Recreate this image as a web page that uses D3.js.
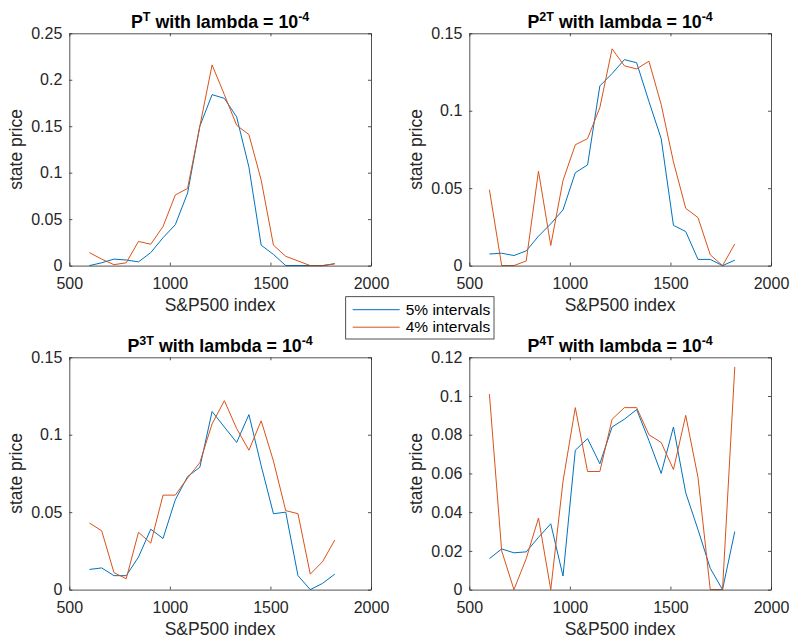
<!DOCTYPE html>
<html>
<head>
<meta charset="utf-8">
<script src="https://cdn.jsdelivr.net/npm/d3@7"></script>
<style>
  html, body { margin: 0; padding: 0; background: #fff; }
  svg { display: block; font-family: "Liberation Sans", Arial, Helvetica, sans-serif; }
</style>
</head>
<body>
<svg id="chart" width="791" height="641"></svg>
<script>
// ---- data ----
const xIndex = [600, 661, 722, 783, 844, 905, 966, 1027, 1088, 1149, 1210, 1271, 1332, 1393, 1454, 1515, 1576, 1637, 1698, 1759, 1820];

const p1_5pct = [0.000, 0.003, 0.007, 0.006, 0.004, 0.014, 0.030, 0.044, 0.078, 0.150, 0.184, 0.180, 0.160, 0.106, 0.022, 0.012, 0.000, 0.000, 0.000, 0.000, 0.002];
const p1_4pct = [0.014, 0.007, 0.001, 0.003, 0.026, 0.023, 0.042, 0.076, 0.083, 0.150, 0.216, 0.184, 0.151, 0.141, 0.092, 0.022, 0.010, 0.005, 0.000, 0.000, 0.002];

const p2_5pct = [0.0075, 0.008, 0.0065, 0.0095, 0.019, 0.027, 0.036, 0.060, 0.065, 0.116, 0.124, 0.133, 0.131, 0.106, 0.082, 0.026, 0.022, 0.004, 0.004, 0.000, 0.0035];
const p2_4pct = [0.049, 0.000, 0.000, 0.003, 0.061, 0.013, 0.055, 0.078, 0.082, 0.102, 0.140, 0.129, 0.127, 0.132, 0.104, 0.067, 0.037, 0.031, 0.007, 0.000, 0.014];

const p3_5pct = [0.013, 0.014, 0.009, 0.009, 0.021, 0.039, 0.033, 0.058, 0.073, 0.079, 0.115, 0.105, 0.095, 0.113, 0.080, 0.049, 0.050, 0.009, 0.000, 0.004, 0.010];
const p3_4pct = [0.043, 0.038, 0.011, 0.007, 0.037, 0.030, 0.061, 0.061, 0.072, 0.082, 0.107, 0.122, 0.104, 0.090, 0.109, 0.083, 0.051, 0.049, 0.010, 0.018, 0.032];

const p4_5pct = [0.016, 0.021, 0.019, 0.0195, 0.027, 0.034, 0.007, 0.072, 0.078, 0.065, 0.084, 0.088, 0.093, 0.077, 0.060, 0.084, 0.050, 0.031, 0.011, 0.000, 0.030];
const p4_4pct = [0.101, 0.020, 0.000, 0.016, 0.037, 0.000, 0.056, 0.094, 0.061, 0.061, 0.088, 0.094, 0.094, 0.080, 0.076, 0.062, 0.090, 0.058, 0.000, 0.000, 0.115];

const xTicks = [500, 1000, 1500, 2000];
const yTicks1 = [0, 0.05, 0.1, 0.15, 0.2, 0.25];
const yTicks2 = [0, 0.05, 0.1, 0.15];
const yTicks3 = [0, 0.05, 0.1, 0.15];
const yTicks4 = [0, 0.02, 0.04, 0.06, 0.08, 0.1, 0.12];

const seriesNames = ["5% intervals", "4% intervals"];
const powers = ["", "2", "3", "4"];

// ---- style ----
const colBlue = "#0072BD";
const colOrange = "#D95319";
const ink = "#262626";

const svg = d3.select("#chart");

const panels = [
  { s5: p1_5pct, s4: p1_4pct, yt: yTicks1, ymax: 0.25, pw: powers[0], left: 69.3, top: 33.3 },
  { s5: p2_5pct, s4: p2_4pct, yt: yTicks2, ymax: 0.15, pw: powers[1], left: 469.3, top: 33.3 },
  { s5: p3_5pct, s4: p3_4pct, yt: yTicks3, ymax: 0.15, pw: powers[2], left: 69.3, top: 357.3 },
  { s5: p4_5pct, s4: p4_4pct, yt: yTicks4, ymax: 0.12, pw: powers[3], left: 469.3, top: 357.3 }
];
const W = 301.7, H = 232.3;

panels.forEach(p => {
  const g = svg.append("g").attr("transform", `translate(${p.left},${p.top})`);
  const x = d3.scaleLinear().domain([500, 2000]).range([0, W]);
  const y = d3.scaleLinear().domain([0, p.ymax]).range([H, 0]);

  // lines
  const line = d3.line().x((d, i) => x(xIndex[i])).y(d => y(d));
  g.append("path").datum(p.s5).attr("d", line)
    .attr("fill", "none").attr("stroke", colBlue).attr("stroke-width", 1);
  g.append("path").datum(p.s4).attr("d", line)
    .attr("fill", "none").attr("stroke", colOrange).attr("stroke-width", 1);

  // axes (ticks inward, mirrored)
  const fmt = d => String(d);
  const xb = g.append("g").attr("transform", `translate(0,${H})`)
    .call(d3.axisBottom(x).tickValues(xTicks).tickSizeInner(-3).tickSizeOuter(0).tickPadding(12).tickFormat(fmt));
  const xt = g.append("g")
    .call(d3.axisTop(x).tickValues(xTicks).tickSizeInner(-3).tickSizeOuter(0).tickFormat(""));
  const yl = g.append("g")
    .call(d3.axisLeft(y).tickValues(p.yt).tickSizeInner(-3).tickSizeOuter(0).tickPadding(7).tickFormat(fmt));
  const yr = g.append("g").attr("transform", `translate(${W},0)`)
    .call(d3.axisRight(y).tickValues(p.yt).tickSizeInner(-3).tickSizeOuter(0).tickFormat(""));

  [xb, xt, yl, yr].forEach(a => {
    a.select(".domain").attr("stroke", ink).attr("stroke-width", 0.8);
    a.selectAll(".tick line").attr("stroke", ink).attr("stroke-width", 0.8);
    a.selectAll(".tick text").attr("fill", ink).attr("font-size", 16)
      .attr("font-family", "Liberation Sans, Arial, sans-serif");
  });

  // title
  const t = g.append("text").attr("x", W / 2).attr("y", -5.8)
    .attr("text-anchor", "middle").attr("font-weight", "bold")
    .attr("font-size", 17.8).attr("fill", "#000");
  t.append("tspan").text("P");
  t.append("tspan").attr("dy", -7).attr("font-size", 12.5).text(p.pw + "T");
  t.append("tspan").attr("dy", 7).text(" with lambda = 10");
  t.append("tspan").attr("dy", -7).attr("font-size", 12.5).text("-4");

  // x label
  g.append("text").attr("x", W / 2).attr("y", H + 45)
    .attr("text-anchor", "middle").attr("font-size", 17.5).attr("fill", ink)
    .text("S&P500 index");

  // y label
  g.append("text").attr("transform", `translate(-47,${H / 2}) rotate(-90)`)
    .attr("text-anchor", "middle").attr("font-size", 17.5).attr("fill", ink)
    .text("state price");
});

// legend
const lg = svg.append("g").attr("transform", "translate(345.7,296.7)");
lg.append("rect").attr("width", 148.3).attr("height", 42.3)
  .attr("fill", "#fff").attr("stroke", ink).attr("stroke-width", 0.8);
[colBlue, colOrange].forEach((c, i) => {
  const yy = 13 + i * 17.5;
  lg.append("line").attr("x1", 7).attr("x2", 54).attr("y1", yy).attr("y2", yy)
    .attr("stroke", c).attr("stroke-width", 1);
  lg.append("text").attr("x", 60).attr("y", yy + 5.3).attr("font-size", 15.5)
    .attr("fill", "#000").text(seriesNames[i]);
});
</script>
</body>
</html>
